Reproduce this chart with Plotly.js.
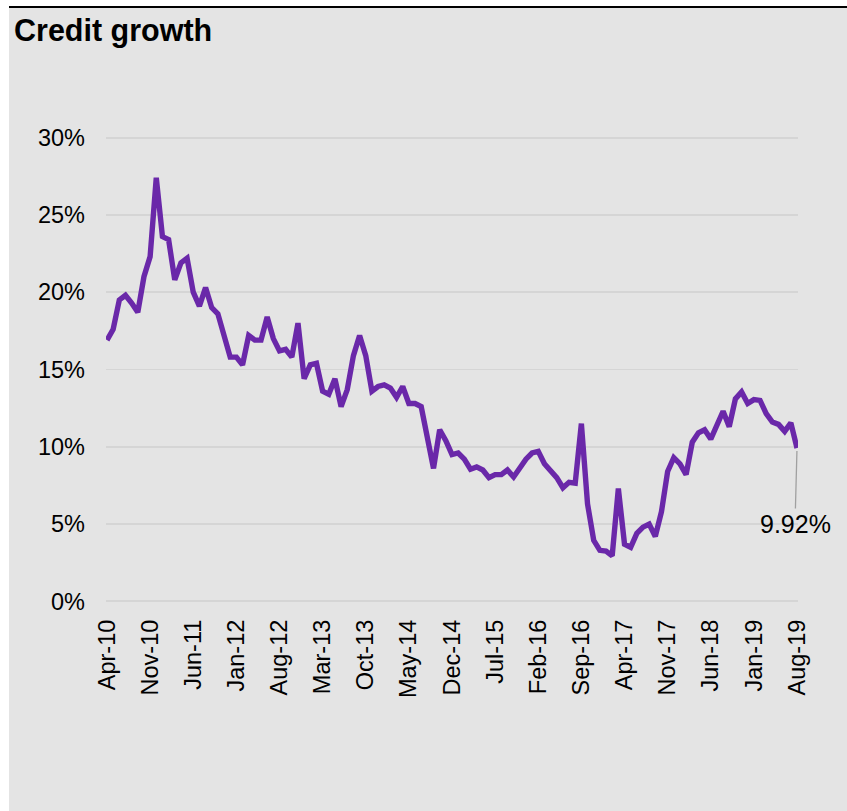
<!DOCTYPE html>
<html>
<head>
<meta charset="utf-8">
<script src="https://cdn.plot.ly/plotly-3.0.1.min.js"></script>
<style>
  html, body { margin: 0; padding: 0; background: #ffffff; }
  #chart { position: absolute; left: 9px; top: 6px; width: 838px; height: 803px; border-top: 2px solid #000000; }
</style>
</head>
<body>
<div id="chart"></div>
<script>
// Monthly credit growth (%), Apr-2010 .. Aug-2019
const startYear = 2010, startMonth = 3; // April (0-based)
const monthNames = ['Jan','Feb','Mar','Apr','May','Jun','Jul','Aug','Sep','Oct','Nov','Dec'];

const creditGrowth = [
  16.9, 17.6, 19.5, 19.8, 19.3, 18.7, 21.0, 22.3, 27.4, 23.6,
  23.4, 20.8, 21.9, 22.2, 20.0, 19.1, 20.3, 19.0, 18.6, 17.2,
  15.8, 15.8, 15.3, 17.2, 16.9, 16.9, 18.4, 17.0, 16.2, 16.3,
  15.8, 18.0, 14.4, 15.3, 15.4, 13.6, 13.4, 14.4, 12.6, 13.7,
  15.9, 17.2, 15.9, 13.6, 13.9, 14.0, 13.8, 13.2, 13.9, 12.8,
  12.8, 12.6, 10.4, 8.6, 11.1, 10.4, 9.5, 9.6, 9.2, 8.55,
  8.7, 8.5, 8.0, 8.2, 8.2, 8.5, 8.05, 8.6, 9.2, 9.6,
  9.7, 8.9, 8.4, 8.0, 7.35, 7.7, 7.65, 11.5, 6.3, 3.95,
  3.3, 3.25, 2.95, 7.3, 3.7, 3.5, 4.4, 4.8, 5.0, 4.2,
  5.8, 8.4, 9.3, 8.9, 8.2, 10.3, 10.9, 11.1, 10.5, 11.4,
  12.3, 11.3, 13.1, 13.55, 12.8, 13.05, 13.0, 12.15, 11.6, 11.45,
  11.0, 11.55, 9.92
];

const months = creditGrowth.map((_, i) => {
  const m = startMonth + i;
  const y = startYear + Math.floor(m / 12);
  return monthNames[m % 12] + '-' + String(y).slice(2);
});

const xTickLabels = ['Apr-10','Nov-10','Jun-11','Jan-12','Aug-12','Mar-13','Oct-13','May-14',
  'Dec-14','Jul-15','Feb-16','Sep-16','Apr-17','Nov-17','Jun-18','Jan-19','Aug-19'];
const yTickValues = [0, 5, 10, 15, 20, 25, 30];
const yTickLabels = ['0%','5%','10%','15%','20%','25%','30%'];

const chartTitle = 'Credit growth';
const lastLabel = '9.92%';

const trace = {
  type: 'scatter',
  mode: 'lines',
  x: months,
  y: creditGrowth,
  line: { color: '#6a28a9', width: 5.4, shape: 'linear' },
  hoverinfo: 'x+y'
};

const FONT = '"Liberation Sans", Arial, sans-serif';

const layout = {
  width: 838,
  height: 803,
  margin: { l: 97, r: 49, t: 125.4, b: 205.4, pad: 0 },
  paper_bgcolor: '#e4e4e4',
  plot_bgcolor: '#e4e4e4',
  showlegend: false,
  font: { family: FONT, color: '#000000', size: 24 },
  title: {
    text: '<b>' + chartTitle + '</b>',
    font: { family: FONT, size: 30.5, color: '#000000' },
    xref: 'container', yref: 'container',
    x: 0.006, xanchor: 'left',
    y: 0.9725, yanchor: 'middle'
  },
  xaxis: {
    type: 'category',
    range: [-0.16, creditGrowth.length - 1 + 0.16],
    tickmode: 'array',
    tickvals: xTickLabels,
    ticktext: xTickLabels,
    tickangle: -90,
    ticks: '',
    showgrid: false,
    zeroline: false,
    showline: false,
    ticklabelstandoff: 8,
    tickfont: { family: FONT, size: 23.5, color: '#000000' }
  },
  yaxis: {
    range: [-0.3, 30.3],
    tickmode: 'array',
    tickvals: yTickValues,
    ticktext: yTickLabels,
    ticks: '',
    showgrid: true,
    gridcolor: '#d5d5d5',
    gridwidth: 1.8,
    zeroline: false,
    showline: false,
    ticklabelstandoff: 20,
    tickfont: { family: FONT, size: 23.5, color: '#000000' }
  },
  annotations: [{
    x: months[months.length - 1],
    y: creditGrowth[creditGrowth.length - 1],
    xref: 'x', yref: 'y',
    text: lastLabel,
    showarrow: true,
    arrowhead: 0,
    arrowwidth: 1.3,
    arrowcolor: '#a0a0a0',
    ax: -2,
    ay: 76,
    standoff: 3,
    font: { family: FONT, size: 25, color: '#000000' }
  }]
};

Plotly.newPlot('chart', [trace], layout, { displayModeBar: false, staticPlot: true });
</script>
</body>
</html>
